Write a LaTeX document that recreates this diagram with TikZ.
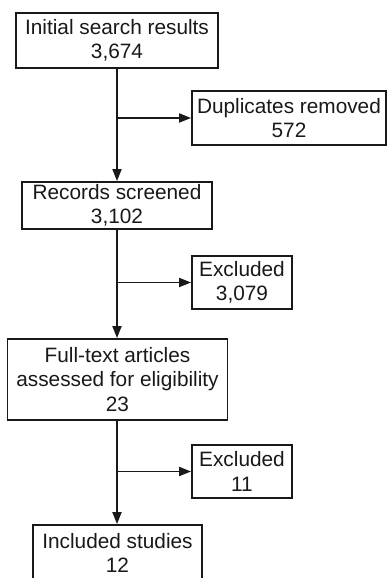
\documentclass[tikz,border=0pt]{standalone}
\usepackage{fontspec}
\setmainfont{Liberation Sans}
\usetikzlibrary{arrows.meta}
\tikzset{
  box/.style={draw=black!90, line width=1.8pt, align=center, inner sep=0pt,
    font=\fontsize{20.8}{24.5}\selectfont, text=black!90},
  flow/.style={draw=black!90, line width=1.8pt, -{Triangle[length=12pt,width=9pt]}}
}
\begin{document}
\begin{tikzpicture}[x=1pt,y=1pt]
\clip (0,0) rectangle (388,578);
\fill[white] (0,0) rectangle (388,578);
\node[box, minimum width=202pt, minimum height=55pt] (b1) at (117,537.5) {Initial search results\\3,674};
\node[box, minimum width=194pt, minimum height=54pt] (b2) at (289,460) {Duplicates removed\\572};
\node[box, minimum width=190pt, minimum height=47pt] (b3) at (117,372.5) {Records screened\\3,102};
\node[box, minimum width=100pt, minimum height=53pt] (b4) at (242,295.5) {Excluded\\3,079};
\node[box, minimum width=220pt, minimum height=81pt] (b5) at (117.5,198.5) {Full-text articles\\assessed for eligibility\\23};
\node[box, minimum width=100pt, minimum height=53pt] (b6) at (242,106.5) {Excluded\\11};
\node[box, minimum width=169pt, minimum height=56pt] (b7) at (117.5,25) {Included studies\\12};
\draw[flow] (b1.south) -- (b3.north);
\draw[flow] (b1.south |- b2.west) -- (b2.west);
\draw[flow] (b3.south) -- (b5.north -| b3.south);
\draw[flow] (b3.south |- b4.west) -- (b4.west);
\draw[flow] (b5.south -| b3.south) -- (b7.north -| b3.south);
\draw[flow] (b3.south |- b6.west) -- (b6.west);
\end{tikzpicture}
\end{document}
